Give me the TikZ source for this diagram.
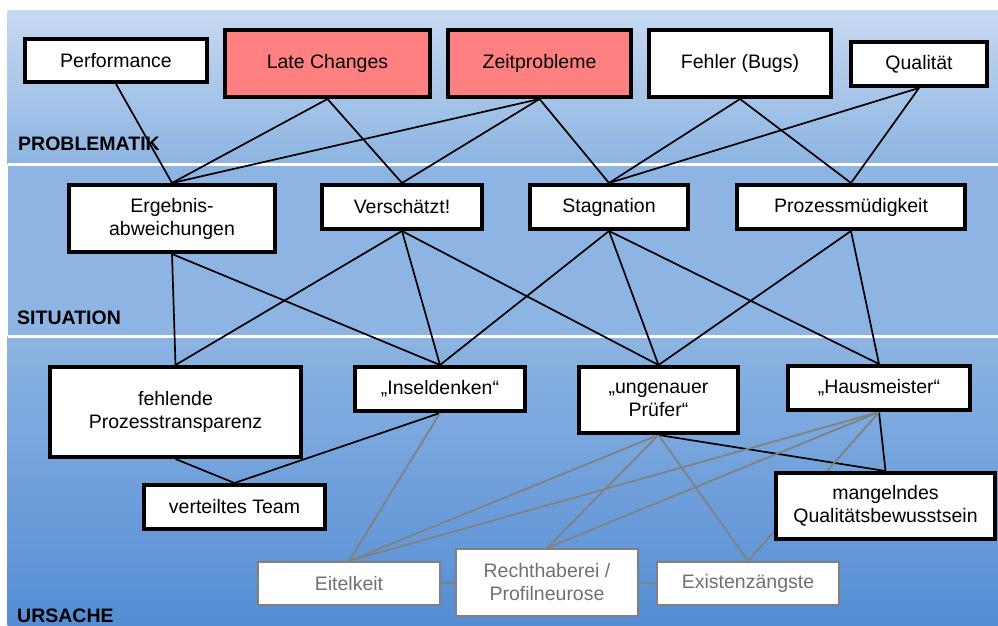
\documentclass[tikz,border=0pt]{standalone}
\usepackage{fontspec}
\setmainfont{Liberation Sans}
\pgfdeclarelayer{bg}
\pgfsetlayers{bg,main}
\definecolor{bgA}{RGB}{198,217,241}
\definecolor{bgB}{RGB}{141,180,226}
\definecolor{bgC}{RGB}{84,141,212}
\definecolor{redfill}{RGB}{255,128,128}
\definecolor{grayline}{RGB}{128,128,128}
\definecolor{graytext}{RGB}{112,112,112}
\tikzset{
  box/.style={draw=black, line width=3.6pt, fill=white, inner sep=0pt, align=center,
    font=\fontsize{19.5}{23}\selectfont, text=black},
  redbox/.style={box, fill=redfill},
  graybox/.style={draw=grayline, line width=2pt, fill=white, inner sep=0pt, align=center,
    font=\fontsize{19.5}{23}\selectfont, text=graytext},
  conn/.style={draw=black, line width=1.7pt},
  gconn/.style={draw=grayline, line width=1.7pt},
  lvl/.style={font=\bfseries\fontsize{19.5}{23}\selectfont, anchor=base west, inner sep=0pt, text=black},
}
\begin{document}
\begin{tikzpicture}[x=1pt,y=-1pt]
\useasboundingbox (0,0) rectangle (998,626);
% background bands
\begin{pgfonlayer}{bg}
\shade[top color=bgA, bottom color=bgB] (7.5,11) rectangle (998,164.5);
\fill[bgB] (7.5,164.5) rectangle (998,336.5);
\shade[top color=bgB, bottom color=bgC] (7.5,336.5) rectangle (998,626);
\fill[white] (7.5,163) rectangle (998,166);
\fill[white] (7.5,335) rectangle (998,338);
\end{pgfonlayer}
% level labels
\node[lvl] (lp) at (18,150.5) {PROBLEMATIK};
\node[lvl] (ls) at (17,324) {SITUATION};
\node[lvl] (lu) at (17,622) {URSACHE};
% problem row
\node[box, minimum width=182.4pt, minimum height=43.4pt] (perf) at (116,60.5) {Performance};
\node[redbox, minimum width=205.4pt, minimum height=67.4pt] (late) at (327.5,63.5) {Late Changes};
\node[redbox, minimum width=183.4pt, minimum height=67.4pt] (zeit) at (539.5,63.5) {Zeitprobleme};
\node[box, minimum width=182.4pt, minimum height=67.4pt] (fehl) at (740,63.5) {Fehler (Bugs)};
\node[box, minimum width=136.4pt, minimum height=44.4pt] (qual) at (919,64) {Qualität};
% situation row
\node[box, minimum width=206.4pt, minimum height=67.4pt] (erg) at (172,218.5) {Ergebnis-\\abweichungen};
\node[box, minimum width=160.4pt, minimum height=44.4pt] (vers) at (402,207) {Verschätzt!};
\node[box, minimum width=158.4pt, minimum height=44.4pt] (stag) at (609,207) {Stagnation};
\node[box, minimum width=228.4pt, minimum height=44.4pt] (proz) at (851,207) {Prozessmüdigkeit};
% cause row
\node[box, minimum width=251.4pt, minimum height=90.4pt] (fpt) at (175.5,412) {fehlende\\Prozesstransparenz};
\node[box, minimum width=170.4pt, minimum height=44.4pt] (insel) at (440,389) {„Inseldenken“};
\node[box, minimum width=159.4pt, minimum height=66.4pt] (ungen) at (658.5,400) {„ungenauer\\Prüfer“};
\node[box, minimum width=182.4pt, minimum height=44.4pt] (haus) at (879,388) {„Hausmeister“};
\node[box, minimum width=181.4pt, minimum height=44.4pt] (team) at (234.5,507) {verteiltes Team};
\node[box, minimum width=219.4pt, minimum height=66.4pt] (mqb) at (885.5,506) {mangelndes\\Qualitätsbewusstsein};
\node[graybox, minimum width=182pt, minimum height=43pt] (eitel) at (349,583.5) {Eitelkeit};
\node[graybox, minimum width=182pt, minimum height=67pt] (recht) at (547,582.5) {Rechthaberei /\\Profilneurose};
\node[graybox, minimum width=182pt, minimum height=43pt] (exist) at (748,583.5) {Existenzängste};
% connectors
\begin{pgfonlayer}{bg}
\draw[conn] (perf.south) -- (erg.north);
\draw[conn] (late.south) -- (erg.north);
\draw[conn] (late.south) -- (vers.north);
\draw[conn] (zeit.south) -- (erg.north);
\draw[conn] (zeit.south) -- (vers.north);
\draw[conn] (zeit.south) -- (stag.north);
\draw[conn] (fehl.south) -- (stag.north);
\draw[conn] (fehl.south) -- (proz.north);
\draw[conn] (qual.south) -- (stag.north);
\draw[conn] (qual.south) -- (proz.north);
\draw[conn] (erg.south) -- (fpt.north);
\draw[conn] (erg.south) -- (insel.north);
\draw[conn] (vers.south) -- (fpt.north);
\draw[conn] (vers.south) -- (insel.north);
\draw[conn] (vers.south) -- (ungen.north);
\draw[conn] (stag.south) -- (insel.north);
\draw[conn] (stag.south) -- (ungen.north);
\draw[conn] (stag.south) -- (haus.north);
\draw[conn] (proz.south) -- (ungen.north);
\draw[conn] (proz.south) -- (haus.north);
\draw[conn] (fpt.south) -- (team.north);
\draw[conn] (insel.south) -- (team.north);
\draw[conn] (ungen.south) -- (mqb.north);
\draw[conn] (haus.south) -- (mqb.north);
\draw[gconn] (insel.south) -- (eitel.north);
\draw[gconn] (ungen.south) -- (eitel.north);
\draw[gconn] (haus.south) -- (eitel.north);
\draw[gconn] (ungen.south) -- (recht.north);
\draw[gconn] (haus.south) -- (recht.north);
\draw[gconn] (ungen.south) -- (exist.north);
\draw[gconn] (haus.south) -- (exist.north);
\draw[gconn] (eitel.east) -- (recht.west);
\draw[gconn] (recht.east) -- (exist.west);
\end{pgfonlayer}
\end{tikzpicture}
\end{document}
